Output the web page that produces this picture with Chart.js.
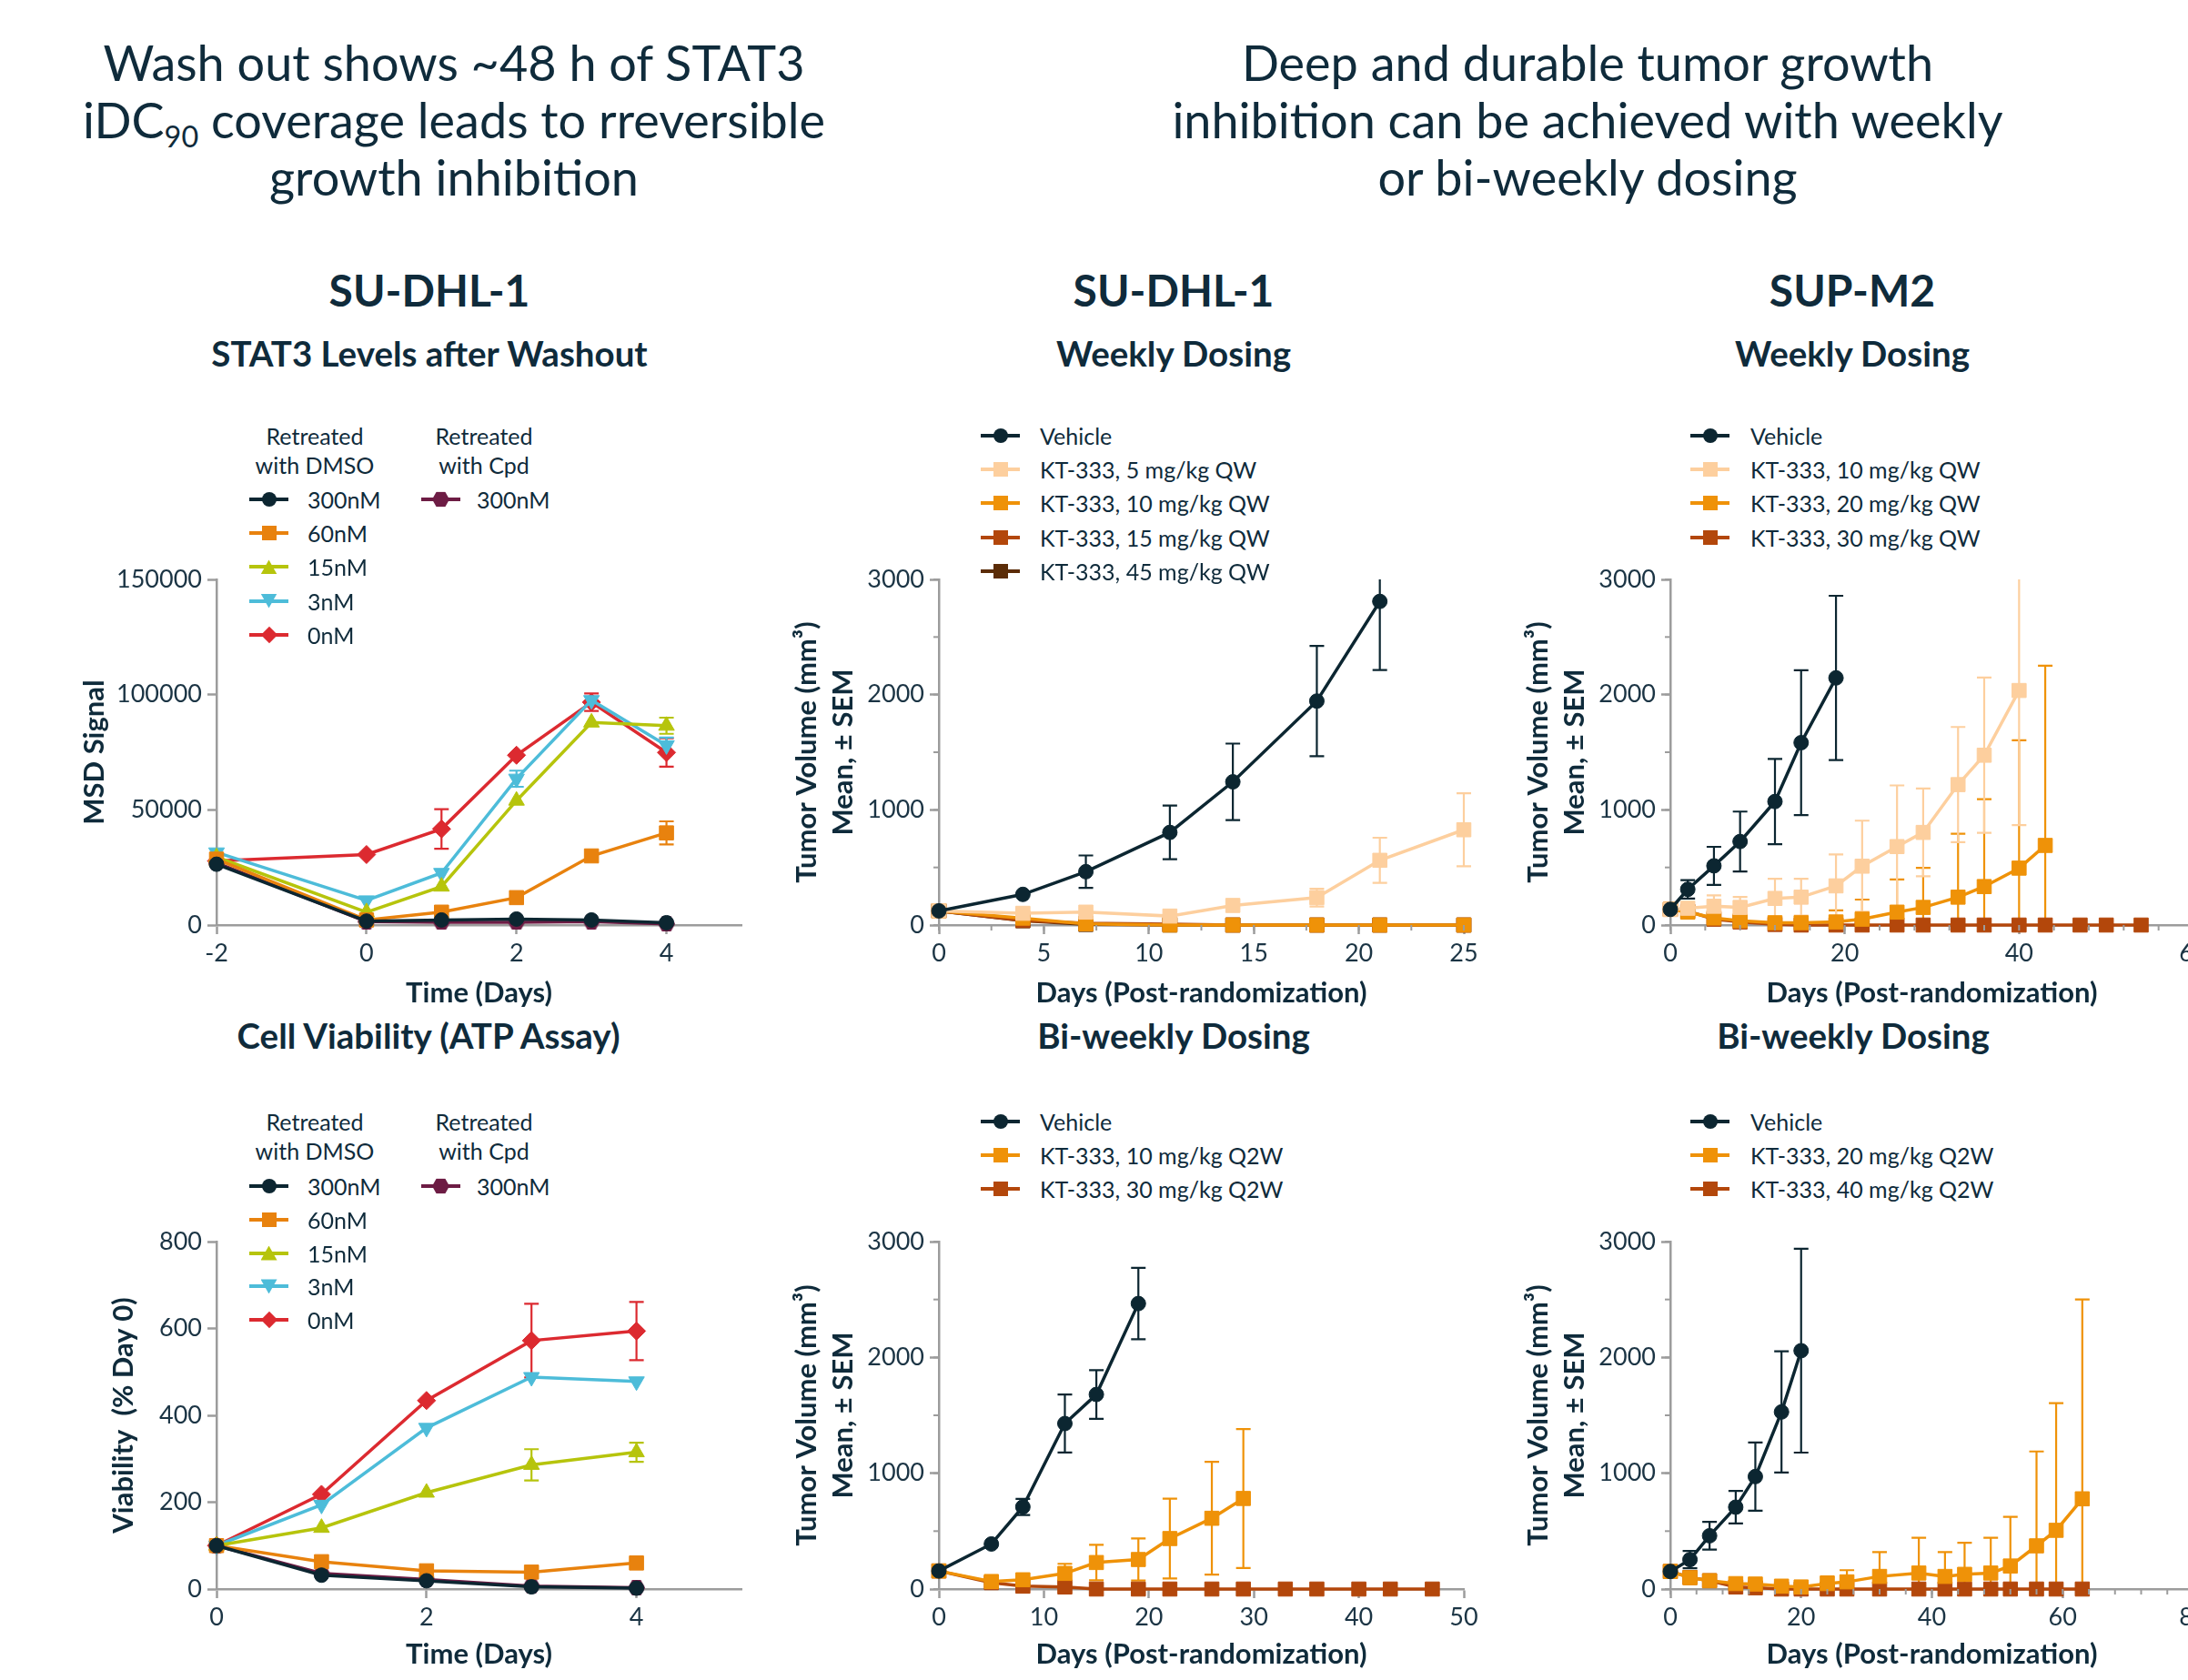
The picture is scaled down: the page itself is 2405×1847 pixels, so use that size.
<!DOCTYPE html>
<html>
<head>
<meta charset="utf-8">
<script src="https://cdn.jsdelivr.net/npm/chart.js@4.4.1/dist/chart.umd.min.js"></script>
<style>
  html, body { margin: 0; padding: 0; background: #fff; overflow: hidden; }
  body { width: 2405px; height: 1847px; position: relative; font-family: Lato, "Noto Sans", sans-serif; color: #0f2b3b; }
  .ctr { position: absolute; transform: translateX(-50%); text-align: center; white-space: nowrap; }
  .big { font-size: 54px; line-height: 63px; }
  .big sub { font-size: 60%; vertical-align: -0.3em; line-height: 0; }
  .cell { font-size: 48px; line-height: 56px; font-weight: 700; }
  .sub { font-size: 38.5px; line-height: 44px; font-weight: 700; }
  .lhead { font-size: 25px; line-height: 32px; }
  .leg { position: absolute; height: 32px; width: 10px; z-index: 2; }
  .lline { position: absolute; left: 0; top: 14px; width: 43px; height: 4px; }
  .mk { position: absolute; left: 21.5px; top: 16px; transform: translate(-50%, -50%); }
  .mk-circle { width: 16px; height: 16px; border-radius: 50%; }
  .mk-square { width: 16px; height: 16px; }
  .mk-tri { width: 18px; height: 16px; clip-path: polygon(50% 0, 100% 100%, 0 100%); }
  .mk-tridown { width: 18px; height: 16px; clip-path: polygon(0 0, 100% 0, 50% 100%); }
  .mk-diamond { width: 13px; height: 13px; transform: translate(-50%, -50%) rotate(45deg); }
  .mk-hex { width: 19px; height: 17px; clip-path: polygon(25% 0, 75% 0, 100% 50%, 75% 100%, 25% 100%, 0 50%); }
  .ltxt { position: absolute; top: 0; line-height: 32px; font-size: 25px; white-space: nowrap; }
  .plot { position: absolute; z-index: 1; }
</style>
</head>
<body>

<div class="ctr big" style="left:499px; top:37px;">Wash out shows ~48 h of STAT3<br>iDC<sub>90</sub> coverage leads to rreversible<br>growth inhibition</div>
<div class="ctr big" style="left:1745px; top:37px;">Deep and durable tumor growth<br>inhibition can be achieved with weekly<br>or bi-weekly dosing</div>

<div class="ctr cell" style="left:472px; top:291px;">SU-DHL-1</div>
<div class="ctr cell" style="left:1290px; top:291px;">SU-DHL-1</div>
<div class="ctr cell" style="left:2036px; top:291px;">SUP-M2</div>

<div class="ctr sub" style="left:472px; top:366px;">STAT3 Levels after Washout</div>
<div class="ctr sub" style="left:1290px; top:366px;">Weekly Dosing</div>
<div class="ctr sub" style="left:2036px; top:366px;">Weekly Dosing</div>

<div class="ctr sub" style="left:471px; top:1116px;">Cell Viability (ATP Assay)</div>
<div class="ctr sub" style="left:1290px; top:1116px;">Bi-weekly Dosing</div>
<div class="ctr sub" style="left:2037px; top:1116px;">Bi-weekly Dosing</div>

<script>
// ---- data: washout MSD signal (SU-DHL-1) ----
const washDays = [-2, 0, 1, 2, 3, 4];
const msdDmso300 = [26400, 1700, 2200, 2600, 2200, 1000];
const msdDmso60 = [28600, 2200, 5600, 11900, 30000, 40000];
const msdDmso15 = [29500, 5600, 16700, 54000, 87900, 86500];
const msdDmso3 = [31500, 10700, 22600, 63500, 97600, 78000];
const msdDmso0 = [27800, 30600, 41700, 73700, 96700, 74900];
const msdCpd300 = [27000, 1500, 1200, 1200, 1500, 500];
const msdErr60 = [null, null, null, null, null, 5000];
const msdErr15 = [null, null, null, null, null, 3500];
const msdErr3 = [null, null, null, 3500, null, 3400];
const msdErr0 = [null, null, 8600, null, 3800, 6200];
const washXTicks = [-2, 0, 2, 4];
const msdYTicks = [0, 50000, 100000, 150000];

// ---- data: cell viability ----
const viaDays = [0, 1, 2, 3, 4];
const viaDmso300 = [100, 32, 19, 5, 2];
const viaDmso60 = [100, 63, 42, 39, 60];
const viaDmso15 = [100, 141, 222, 286, 315];
const viaDmso3 = [100, 194, 371, 488, 478];
const viaDmso0 = [100, 218, 434, 572, 594];
const viaCpd300 = [100, 36, 22, 7, 3];
const viaErr15 = [null, null, null, 36, 22];
const viaErr0 = [null, null, null, 85, 67];
const viaXTicks = [0, 2, 4];
const viaYTicks = [0, 200, 400, 600, 800];

// ---- data: SU-DHL-1 weekly ----
const dhlQwDays = [0, 4, 7, 11, 14, 18, 21, 25];
const dhlQwVehicle = [123, 266, 463, 804, 1243, 1944, 2809];
const dhlQwVehicleErr = [null, null, 141, 233, 332, 478, 596];
const dhlQw5 = [123, 102, 112, 78, 170, 238, 562, 827];
const dhlQw5Err = [null, null, null, null, null, 77, 196, 317];
const dhlQw10 = [123, 60, 10, 0, 0, 0, 0, 0];
const dhlQw15 = [123, 40, 15, 8, 0, 0, 0, 0];
const dhlQw45 = [123, 37, 5, 0, 0, 0, 0, 0];
const dhlQwXTicks = [0, 5, 10, 15, 20, 25];

// ---- data: SUP-M2 weekly ----
const supQwDays = [0, 2, 5, 8, 12, 15, 19, 22, 26, 29, 33, 36, 40, 43, 47, 50, 54];
const supQwVehicle = [136, 310, 514, 725, 1072, 1583, 2145];
const supQwVehicleErr = [null, 80, 165, 260, 370, 628, 713];
const supQw10 = [136, 146, 163, 153, 231, 242, 340, 511, 681, 804, 1219, 1474, 2036];
const supQw10Err = [null, null, 95, 90, 170, 160, 273, 395, 531, 381, 500, 674, 1168];
const supQw20 = [136, 112, 61, 37, 20, 20, 27, 51, 112, 153, 242, 334, 494, 691];
const supQw20Err = [null, null, null, null, null, null, 100, 170, 283, 343, 551, 759, 1110, 1560];
const supQw30 = [136, 120, 51, 27, 5, 0, 0, 0, 0, 0, 0, 0, 0, 0, 0, 0, 0];
const supQwXTicks = [0, 20, 40, 60];

// ---- data: SU-DHL-1 bi-weekly ----
const dhlQ2wDays = [0, 5, 8, 12, 15, 19, 22, 26, 29, 33, 36, 40, 43, 47];
const dhlQ2wVehicle = [156, 389, 709, 1429, 1680, 2465];
const dhlQ2wVehicleErr = [null, null, 70, 250, 210, 308];
const dhlQ2w10 = [156, 65, 80, 135, 229, 255, 436, 611, 782];
const dhlQ2w10Err = [null, null, null, 83, 153, 182, 345, 487, 600];
const dhlQ2w30 = [156, 55, 25, 18, 0, 0, 0, 0, 0, 0, 0, 0, 0, 0];
const dhlQ2wXTicks = [0, 10, 20, 30, 40, 50];

// ---- data: SUP-M2 bi-weekly ----
const supQ2wDays = [0, 3, 6, 10, 13, 17, 20, 24, 27, 32, 38, 42, 45, 49, 52, 56, 59, 63];
const supQ2wVehicle = [152, 254, 460, 707, 971, 1529, 2058];
const supQ2wVehicleErr = [null, 75, 120, 140, 295, 523, 880];
const supQ2w20 = [152, 98, 72, 47, 43, 25, 18, 47, 62, 109, 138, 109, 127, 138, 199, 373, 507, 779];
const supQ2w20Err = [null, null, null, null, null, null, null, 62, 101, 210, 304, 210, 272, 304, 424, 815, 1098, 1721];
const supQ2w40 = [152, 100, 72, 18, 11, 0, 0, 0, 0, 0, 0, 0, 0, 0, 0, 0, 0, 0];
const supQ2wXTicks = [0, 20, 40, 60, 80];

const tvYTicks = [0, 1000, 2000, 3000];

// ---- colours ----
const INK = '#0f2b3b';
const AXIS = '#9c9c9c';
const NAVY = '#0c2631';
const ORANGE60 = '#e8820e';
const LIME = '#b6c40c';
const SKY = '#4dbcd9';
const RED = '#dc2a30';
const MAROON = '#6d1c44';
const PEACH = '#fdcf9e';
const AMBER = '#ef9208';
const RUST = '#b3470b';
const BROWN = '#5b2c07';

Chart.defaults.font.family = "Lato, 'Noto Sans', sans-serif";
Chart.defaults.color = INK;

function hexImg(color) {
  const c = document.createElement('canvas');
  c.width = 19; c.height = 17;
  const g = c.getContext('2d');
  g.fillStyle = color;
  g.beginPath();
  g.moveTo(4.75, 0); g.lineTo(14.25, 0); g.lineTo(19, 8.5);
  g.lineTo(14.25, 17); g.lineTo(4.75, 17); g.lineTo(0, 8.5);
  g.closePath(); g.fill();
  return c;
}

function series(label, color, marker, days, vals, errs) {
  const styles = {
    circle: ['circle', 0, 8],
    square: ['rect', 0, 11],
    tri: ['triangle', 0, 10],
    tridown: ['triangle', 180, 10],
    diamond: ['rectRot', 0, 10],
    hex: [hexImg(color), 0, 9]
  };
  const s = styles[marker];
  return {
    label, marker,
    data: vals.map((v, i) => ({ x: days[i], y: v })),
    errors: errs || null,
    borderColor: color, backgroundColor: color,
    pointBackgroundColor: color, pointBorderColor: color,
    pointStyle: s[0], pointRotation: s[1], pointRadius: s[2], pointBorderWidth: 1,
    borderWidth: 3.5, tension: 0, clip: false
  };
}

// error bars (± value), clipped to the plot area
const errorBars = {
  id: 'errorBars',
  beforeDatasetsDraw(chart) {
    const { ctx, chartArea } = chart;
    const xs = chart.scales.x, ys = chart.scales.y;
    ctx.save();
    ctx.beginPath();
    ctx.rect(chartArea.left - 30, chartArea.top, chartArea.right - chartArea.left + 60, chartArea.bottom - chartArea.top);
    ctx.clip();
    for (let i = chart.data.datasets.length - 1; i >= 0; i--) {
      const ds = chart.data.datasets[i];
      if (!ds.errors) continue;
      ctx.strokeStyle = ds.borderColor;
      ctx.lineWidth = 2.2;
      ds.data.forEach((p, j) => {
        const e = ds.errors[j];
        if (e == null) return;
        const x = xs.getPixelForValue(p.x);
        const yt = ys.getPixelForValue(p.y + e);
        const yb = ys.getPixelForValue(p.y - e);
        ctx.beginPath();
        ctx.moveTo(x, yt); ctx.lineTo(x, yb);
        ctx.moveTo(x - 8, yt); ctx.lineTo(x + 8, yt);
        ctx.moveTo(x - 8, yb); ctx.lineTo(x + 8, yb);
        ctx.stroke();
      });
    }
    ctx.restore();
  }
};

// short unlabeled minor ticks along the axes
const minorTicks = {
  id: 'minorTicks',
  afterDraw(chart, args, opts) {
    const { ctx, chartArea } = chart;
    ctx.save();
    ctx.strokeStyle = AXIS;
    ctx.lineWidth = 2;
    if (opts.x) {
      const s = chart.scales.x;
      for (let v = s.min; v <= s.max + 1e-9; v += opts.x) {
        const px = s.getPixelForValue(v);
        ctx.beginPath(); ctx.moveTo(px, chartArea.bottom); ctx.lineTo(px, chartArea.bottom + 6); ctx.stroke();
      }
    }
    if (opts.y) {
      const s = chart.scales.y;
      for (let v = s.min; v <= s.max + 1e-9; v += opts.y) {
        const py = s.getPixelForValue(v);
        ctx.beginPath(); ctx.moveTo(chartArea.left, py); ctx.lineTo(chartArea.left - 6, py); ctx.stroke();
      }
    }
    ctx.restore();
  }
};

function axis(min, max, ticks, title, fitKey, fitVal, isX) {
  return {
    type: 'linear', min, max,
    afterBuildTicks: s => { s.ticks = ticks.map(v => ({ value: v })); },
    afterFit: s => { s[fitKey] = fitVal; },
    border: { color: AXIS, width: 2.5 },
    grid: { drawOnChartArea: false, drawTicks: true, tickLength: 10, tickColor: AXIS, tickWidth: 2.5 },
    ticks: {
      color: '#1b3444', font: { size: 27 }, padding: isX ? 5 : 6,
      autoSkip: false, maxRotation: 0, callback: v => String(v)
    },
    title: {
      display: true, text: title, color: INK, padding: 0,
      font: { size: 31, weight: 'bold', lineHeight: 1.3 }
    }
  };
}

function plot(g, datasets, x, y, minor) {
  const padT = 24, padR = 30;
  const W = g.yw + (g.right - g.left) + padR;
  const H = padT + (g.bottom - g.top) + g.xh;
  const cv = document.createElement('canvas');
  cv.className = 'plot';
  cv.width = W; cv.height = H;
  cv.style.left = (g.left - g.yw) + 'px';
  cv.style.top = (g.top - padT) + 'px';
  cv.style.width = W + 'px';
  cv.style.height = H + 'px';
  document.body.appendChild(cv);
  return new Chart(cv, {
    type: 'line',
    data: { datasets },
    options: {
      responsive: false, animation: false, devicePixelRatio: 1,
      layout: { padding: { top: padT, right: padR, left: 0, bottom: 0 } },
      plugins: { legend: { display: false }, tooltip: { enabled: false }, minorTicks: minor || {} },
      scales: {
        x: axis(x.min, x.max, x.ticks, x.title, 'height', g.xh, true),
        y: axis(y.min, y.max, y.ticks, y.title, 'width', g.yw, false)
      }
    },
    plugins: [errorBars, minorTicks]
  });
}

function addLegend(sets, symLeft, textLeft, firstY, step) {
  sets.forEach((ds, i) => {
    const row = document.createElement('div');
    row.className = 'leg';
    row.style.left = symLeft + 'px';
    row.style.top = (firstY + i * step - 16) + 'px';
    row.innerHTML =
      '<span class="lline" style="background:' + ds.borderColor + '"></span>' +
      '<span class="mk mk-' + ds.marker + '" style="background:' + ds.borderColor + '"></span>' +
      '<span class="ltxt" style="left:' + (textLeft - symLeft) + 'px">' + ds.label + '</span>';
    document.body.appendChild(row);
  });
}

function addHeader(text, cx, topY) {
  const d = document.createElement('div');
  d.className = 'ctr lhead';
  d.style.left = cx + 'px';
  d.style.top = (topY - 16) + 'px';
  d.style.zIndex = 2;
  d.innerHTML = text;
  document.body.appendChild(d);
}

const TV_TITLE = ['Tumor Volume (mm³)', 'Mean, ± SEM'];
const DAYS_TITLE = 'Days (Post-randomization)';

// 1. MSD signal after washout
const msdSets = [
  series('300nM', NAVY, 'circle', washDays, msdDmso300),
  series('60nM', ORANGE60, 'square', washDays, msdDmso60, msdErr60),
  series('15nM', LIME, 'tri', washDays, msdDmso15, msdErr15),
  series('3nM', SKY, 'tridown', washDays, msdDmso3, msdErr3),
  series('0nM', RED, 'diamond', washDays, msdDmso0, msdErr0),
  series('300nM', MAROON, 'hex', washDays, msdCpd300)
];
plot({ left: 238, right: 815, top: 637, bottom: 1017, yw: 154, xh: 95 }, msdSets,
  { min: -2, max: 5, ticks: washXTicks, title: 'Time (Days)' },
  { min: 0, max: 150000, ticks: msdYTicks, title: 'MSD Signal' });
addHeader('Retreated<br>with DMSO', 346, 479);
addHeader('Retreated<br>with Cpd', 532, 479);
addLegend(msdSets.slice(0, 5), 274, 338, 549, 37.2);
addLegend(msdSets.slice(5), 463, 524, 549, 37.2);

// 2. SU-DHL-1 weekly
const dhlQwSets = [
  series('Vehicle', NAVY, 'circle', dhlQwDays, dhlQwVehicle, dhlQwVehicleErr),
  series('KT-333, 5 mg/kg QW', PEACH, 'square', dhlQwDays, dhlQw5, dhlQw5Err),
  series('KT-333, 10 mg/kg QW', AMBER, 'square', dhlQwDays, dhlQw10),
  series('KT-333, 15 mg/kg QW', RUST, 'square', dhlQwDays, dhlQw15),
  series('KT-333, 45 mg/kg QW', BROWN, 'square', dhlQwDays, dhlQw45)
];
plot({ left: 1032, right: 1609, top: 637, bottom: 1017, yw: 165, xh: 95 }, dhlQwSets,
  { min: 0, max: 25, ticks: dhlQwXTicks, title: DAYS_TITLE },
  { min: 0, max: 3000, ticks: tvYTicks, title: TV_TITLE }, { x: 2.5, y: 500 });
addLegend(dhlQwSets, 1078, 1143, 479, 37.2);

// 3. SUP-M2 weekly
const supQwSets = [
  series('Vehicle', NAVY, 'circle', supQwDays, supQwVehicle, supQwVehicleErr),
  series('KT-333, 10 mg/kg QW', PEACH, 'square', supQwDays, supQw10, supQw10Err),
  series('KT-333, 20 mg/kg QW', AMBER, 'square', supQwDays, supQw20, supQw20Err),
  series('KT-333, 30 mg/kg QW', RUST, 'square', supQwDays, supQw30)
];
plot({ left: 1836, right: 2411, top: 637, bottom: 1017, yw: 165, xh: 95 }, supQwSets,
  { min: 0, max: 60, ticks: supQwXTicks, title: DAYS_TITLE },
  { min: 0, max: 3000, ticks: tvYTicks, title: TV_TITLE }, { x: 4, y: 500 });
addLegend(supQwSets, 1858, 1924, 479, 37.2);

// 4. Cell viability
const viaSets = [
  series('300nM', NAVY, 'circle', viaDays, viaDmso300),
  series('60nM', ORANGE60, 'square', viaDays, viaDmso60),
  series('15nM', LIME, 'tri', viaDays, viaDmso15, viaErr15),
  series('3nM', SKY, 'tridown', viaDays, viaDmso3),
  series('0nM', RED, 'diamond', viaDays, viaDmso0, viaErr0),
  series('300nM', MAROON, 'hex', viaDays, viaCpd300)
];
plot({ left: 238, right: 815, top: 1365, bottom: 1747, yw: 122, xh: 92 }, viaSets,
  { min: 0, max: 5, ticks: viaXTicks, title: 'Time (Days)' },
  { min: 0, max: 800, ticks: viaYTicks, title: 'Viability  (% Day 0)' });
addHeader('Retreated<br>with DMSO', 346, 1233);
addHeader('Retreated<br>with Cpd', 532, 1233);
addLegend(viaSets.slice(0, 5), 274, 338, 1304, 36.8);
addLegend(viaSets.slice(5), 463, 524, 1304, 36.8);

// 5. SU-DHL-1 bi-weekly
const dhlQ2wSets = [
  series('Vehicle', NAVY, 'circle', dhlQ2wDays, dhlQ2wVehicle, dhlQ2wVehicleErr),
  series('KT-333, 10 mg/kg Q2W', AMBER, 'square', dhlQ2wDays, dhlQ2w10, dhlQ2w10Err),
  series('KT-333, 30 mg/kg Q2W', RUST, 'square', dhlQ2wDays, dhlQ2w30)
];
plot({ left: 1032, right: 1609, top: 1365, bottom: 1747, yw: 165, xh: 92 }, dhlQ2wSets,
  { min: 0, max: 50, ticks: dhlQ2wXTicks, title: DAYS_TITLE },
  { min: 0, max: 3000, ticks: tvYTicks, title: TV_TITLE }, { y: 500 });
addLegend(dhlQ2wSets, 1078, 1143, 1233, 37);

// 6. SUP-M2 bi-weekly
const supQ2wSets = [
  series('Vehicle', NAVY, 'circle', supQ2wDays, supQ2wVehicle, supQ2wVehicleErr),
  series('KT-333, 20 mg/kg Q2W', AMBER, 'square', supQ2wDays, supQ2w20, supQ2w20Err),
  series('KT-333, 40 mg/kg Q2W', RUST, 'square', supQ2wDays, supQ2w40)
];
plot({ left: 1836, right: 2411, top: 1365, bottom: 1747, yw: 165, xh: 92 }, supQ2wSets,
  { min: 0, max: 80, ticks: supQ2wXTicks, title: DAYS_TITLE },
  { min: 0, max: 3000, ticks: tvYTicks, title: TV_TITLE }, { x: 4, y: 500 });
addLegend(supQ2wSets, 1858, 1924, 1233, 37);
</script>
</body>
</html>
